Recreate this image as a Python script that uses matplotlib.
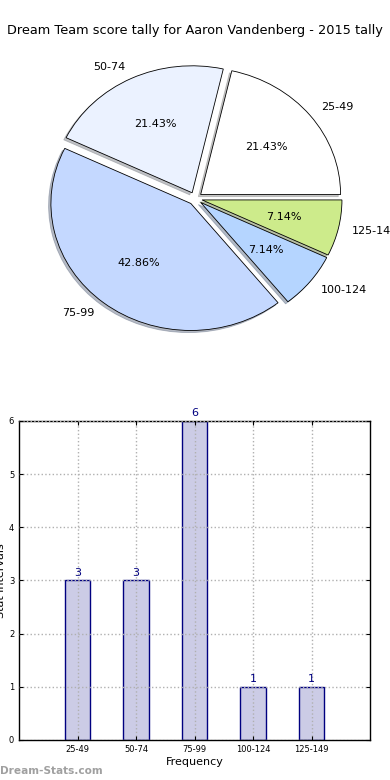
import matplotlib
matplotlib.use("Agg")
import matplotlib.pyplot as plt

categories = ["25-49", "50-74", "75-99", "100-124", "125-149"]
counts = [3, 3, 6, 1, 1]
pie_colors = ["#FFFFFF", "#EBF2FF", "#C4D8FF", "#B5D5FF", "#CDEB8B"]
title = "Dream Team score tally for Aaron Vandenberg - 2015 tally"

fig = plt.figure(figsize=(3.9, 7.8), dpi=100)
fig.text(0.5, 0.961, title, ha="center", va="center", fontsize=9.25)

ax1 = fig.add_axes([0.052, 0.542, 0.897, 0.407])
wedges, texts, autotexts = ax1.pie(
    counts, labels=categories, colors=pie_colors, autopct="%.2f%%",
    explode=[0.05] * len(counts),
    shadow={"ox": -0.012, "oy": -0.012, "shade": 0.45},
    startangle=0,
    wedgeprops=dict(edgecolor="black", linewidth=0.6),
    textprops=dict(fontsize=8))
ax1.set_aspect("auto")
ax1.set_xlim(-1.25, 1.25)
ax1.set_ylim(-1.25, 1.25)

ax2 = fig.add_axes([0.049, 0.0513, 0.9, 0.409])
x = list(range(len(categories)))
bars = ax2.bar(x, counts, width=0.44, color="#CCCCE6", edgecolor="#000080", linewidth=1.0)
for xi, c in zip(x, counts):
    ax2.text(xi, c + 0.05, str(c), ha="center", va="bottom", color="#000080", fontsize=8)
ax2.set_xlim(-1, 5)
ax2.set_ylim(0, 6)
ax2.set_xticks(x)
ax2.set_xticklabels(categories)
ax2.set_yticks(range(7))
ax2.tick_params(labelsize=6, direction="in", top=True, right=True, length=3)
ax2.grid(True, linestyle=":", color="#B0B0B0", linewidth=1.0)
ax2.set_axisbelow(False)
ax2.set_xlabel("Frequency", fontsize=8, labelpad=2)
ax2.set_ylabel("Stat intervals", fontsize=8, labelpad=2)
for s in ax2.spines.values():
    s.set_linewidth(1.0)

fig.text(0.0, 0.012, "Dream-Stats.com", fontsize=7.6, color="#A0A0A0", fontweight="bold", ha="left", va="center")

fig.savefig("out.png", dpi=100)
